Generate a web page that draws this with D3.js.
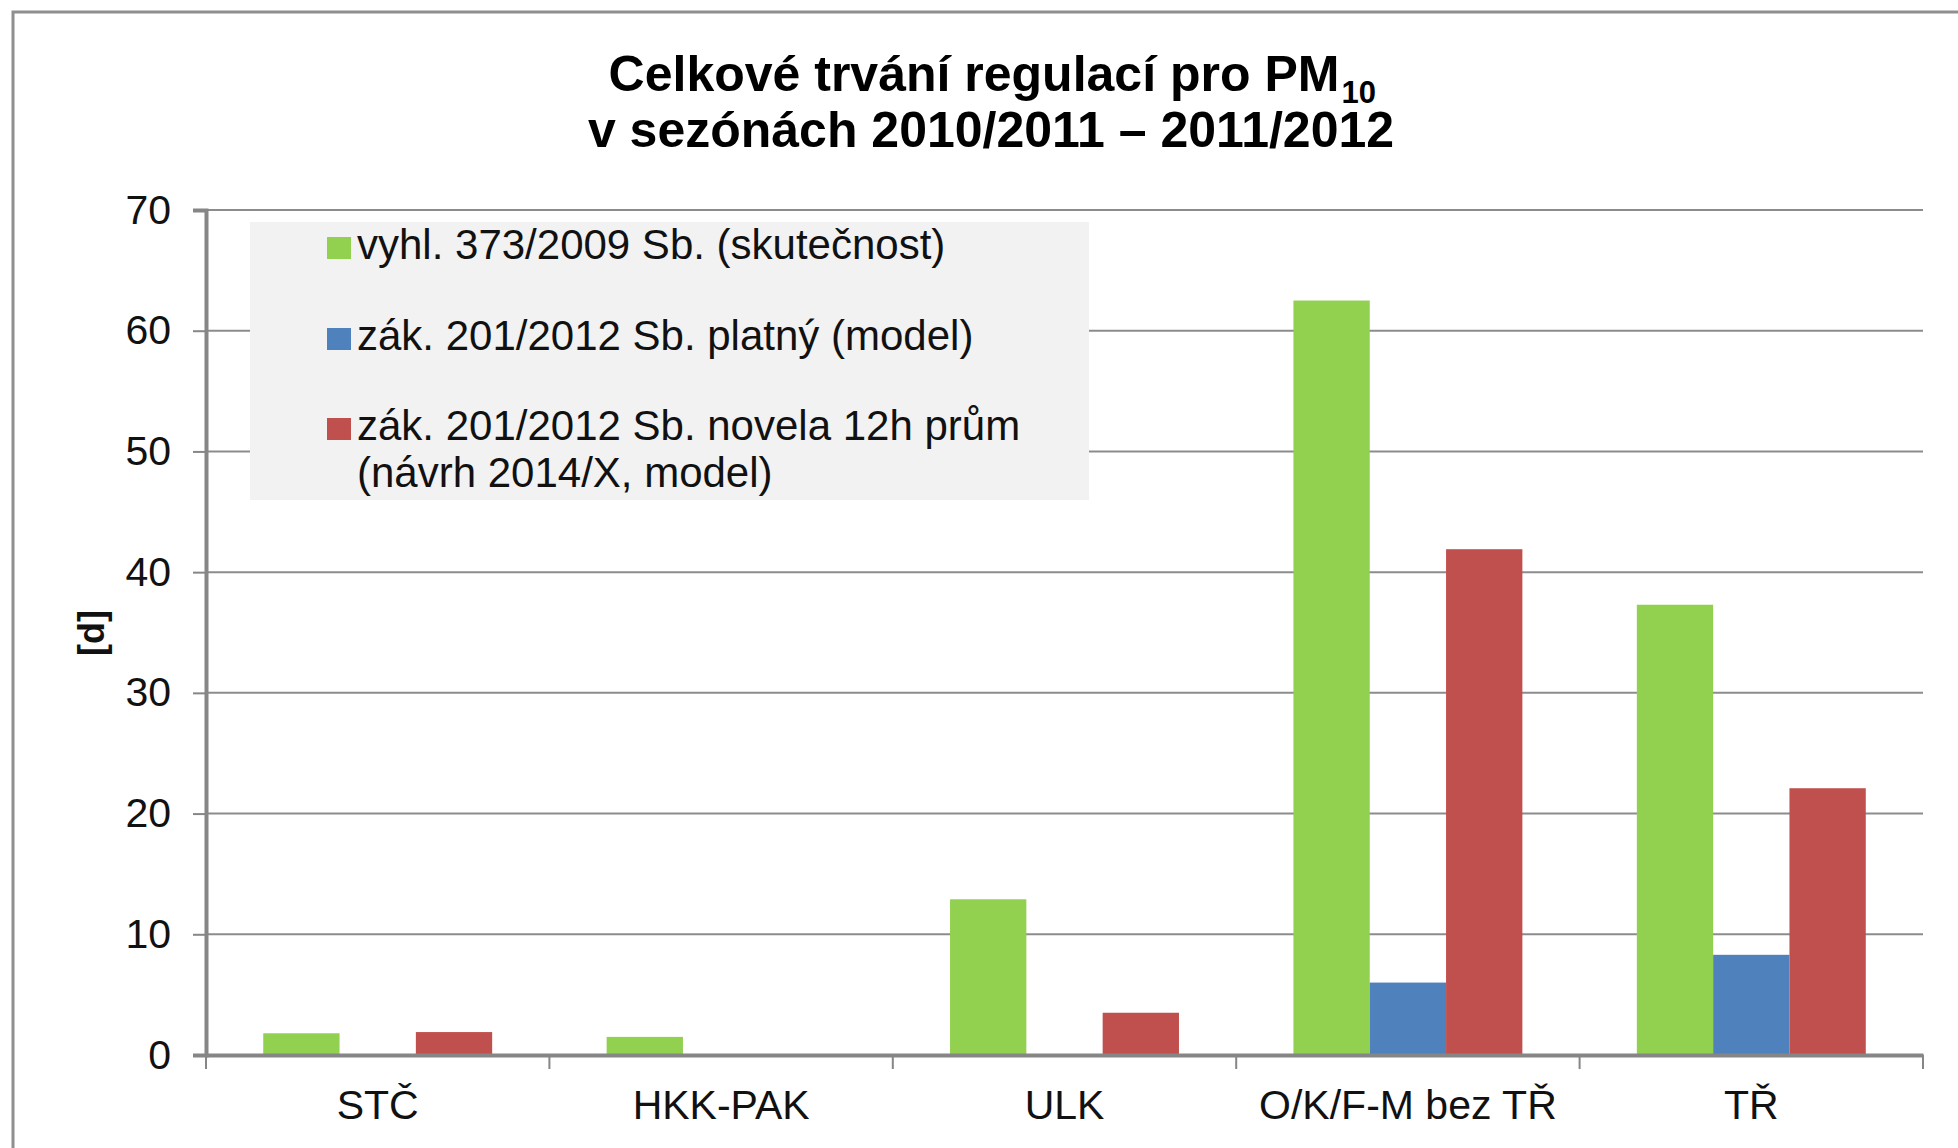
<!DOCTYPE html>
<html lang="cs">
<head>
    <meta charset="UTF-8">
    <title>Celkové trvání regulací pro PM10</title>
    <style>
        body {
            margin: 0;
            padding: 0;
            background: #ffffff;
            font-family: "Liberation Sans", Arial, sans-serif;
        }
        svg text {
            font-family: "Liberation Sans", Arial, sans-serif;
        }
        .grid line {
            stroke: #8c8c8c;
            stroke-width: 2;
        }
    </style>
</head>
<body>
    <div id="chart"></div>

    <script src="https://cdnjs.cloudflare.com/ajax/libs/d3/7.8.5/d3.min.js"></script>
    <script>
        // Data (days)
        const categories = ['STČ', 'HKK-PAK', 'ULK', 'O/K/F-M bez TŘ', 'TŘ'];
        const seriesNames = [
            'vyhl. 373/2009 Sb. (skutečnost)',
            'zák. 201/2012 Sb. platný (model)',
            'zák. 201/2012 Sb. novela 12h prům'
        ];
        const seriesNote = ['', '', '(návrh 2014/X, model)'];
        const skutecnost = [1.8, 1.5, 12.9, 62.5, 37.3];
        const platny = [0, 0, 0, 6.0, 8.3];
        const novela = [1.9, 0, 3.5, 41.9, 22.1];
        const yTicks = [0, 10, 20, 30, 40, 50, 60, 70];
        const colors = ['#92d050', '#4f81bd', '#c0504d'];

        const width = 1958;
        const height = 1148;
        const plot = { left: 206, right: 1923, top: 210, bottom: 1055 };

        const svg = d3.select('#chart')
            .append('svg')
            .attr('width', width)
            .attr('height', height);

        // outer frame (only top and left edges are visible)
        svg.append('rect')
            .attr('x', 13)
            .attr('y', 12)
            .attr('width', width + 20)
            .attr('height', height + 20)
            .attr('fill', 'none')
            .attr('stroke', '#8f8f8f')
            .attr('stroke-width', 3);

        // title, the subscript is its own text so it sits right after "PM"
        const titleLine1 = svg.append('text')
            .attr('x', 974)
            .attr('y', 91)
            .attr('text-anchor', 'middle')
            .attr('font-size', 50)
            .attr('font-weight', 'bold')
            .attr('fill', '#000')
            .text('Celkové trvání regulací pro PM');
        const l1 = titleLine1.node().getBBox();
        svg.append('text')
            .attr('x', l1.x + l1.width + 2)
            .attr('y', 103)
            .attr('font-size', 31)
            .attr('font-weight', 'bold')
            .attr('fill', '#000')
            .text('10');
        svg.append('text')
            .attr('x', 991)
            .attr('y', 147)
            .attr('text-anchor', 'middle')
            .attr('font-size', 50)
            .attr('font-weight', 'bold')
            .attr('fill', '#000')
            .text('v sezónách 2010/2011 – 2011/2012');

        const y = d3.scaleLinear()
            .domain([0, 70])
            .range([plot.bottom, plot.top]);

        const x0 = d3.scaleBand()
            .domain(categories)
            .range([plot.left, plot.right])
            .paddingInner(0)
            .paddingOuter(0);

        const x1 = d3.scaleBand()
            .domain(d3.range(seriesNames.length))
            .range([0, x0.bandwidth()])
            .paddingInner(0)
            .paddingOuter(0.75);

        // gridlines
        svg.append('g')
            .attr('class', 'grid')
            .selectAll('line')
            .data(yTicks.filter(d => d > 0))
            .enter()
            .append('line')
            .attr('x1', plot.left)
            .attr('x2', plot.right)
            .attr('y1', d => y(d))
            .attr('y2', d => y(d));

        // y axis
        const yAxis = svg.append('g')
            .attr('transform', `translate(${plot.left},0)`)
            .call(d3.axisLeft(y).tickValues(yTicks).tickSize(13).tickPadding(22));
        yAxis.select('.domain').attr('stroke', '#868686').attr('stroke-width', 4);
        yAxis.selectAll('.tick line').attr('stroke', '#868686').attr('stroke-width', 2);
        yAxis.selectAll('.tick text')
            .attr('font-size', 41)
            .attr('fill', '#111')
            .attr('font-family', '"Liberation Sans", Arial, sans-serif');

        // y axis title
        svg.append('text')
            .attr('transform', 'translate(104,633) rotate(-90)')
            .attr('text-anchor', 'middle')
            .attr('font-size', 36)
            .attr('font-weight', 'bold')
            .attr('fill', '#111')
            .text('[d]');

        // legend box
        const legend = svg.append('g');
        legend.append('rect')
            .attr('x', 250)
            .attr('y', 222)
            .attr('width', 839)
            .attr('height', 278)
            .attr('fill', '#f2f2f2');

        const legendY = [259, 350, 440];
        seriesNames.forEach((name, i) => {
            legend.append('rect')
                .attr('x', 327)
                .attr('y', legendY[i] - 22)
                .attr('width', 24)
                .attr('height', 22)
                .attr('fill', colors[i]);
            legend.append('text')
                .attr('x', 357)
                .attr('y', legendY[i])
                .attr('font-size', 42)
                .attr('fill', '#111')
                .text(name);
            if (seriesNote[i]) {
                legend.append('text')
                    .attr('x', 357)
                    .attr('y', legendY[i] + 47)
                    .attr('font-size', 42)
                    .attr('fill', '#111')
                    .text(seriesNote[i]);
            }
        });

        // bars
        const seriesValues = [skutecnost, platny, novela];
        const groups = svg.append('g')
            .selectAll('g')
            .data(categories)
            .enter()
            .append('g')
            .attr('transform', d => `translate(${x0(d)},0)`);

        groups.selectAll('rect')
            .data((d, ci) => seriesValues.map((vals, si) => ({ si, value: vals[ci] })))
            .enter()
            .append('rect')
            .attr('x', d => x1(d.si))
            .attr('width', x1.bandwidth())
            .attr('y', d => y(d.value))
            .attr('height', d => y(0) - y(d.value))
            .attr('fill', d => colors[d.si]);

        // x axis
        const xAxis = svg.append('g')
            .attr('transform', `translate(0,${plot.bottom})`)
            .call(d3.axisBottom(x0).tickSize(0).tickPadding(35));
        xAxis.select('.domain').attr('stroke', '#868686').attr('stroke-width', 4);
        xAxis.selectAll('.tick text')
            .attr('font-size', 41)
            .attr('fill', '#111')
            .attr('font-family', '"Liberation Sans", Arial, sans-serif');

        // category separators below the axis
        const edges = categories.map(c => x0(c)).concat([plot.right]);
        svg.append('g')
            .selectAll('line')
            .data(edges)
            .enter()
            .append('line')
            .attr('x1', d => d)
            .attr('x2', d => d)
            .attr('y1', plot.bottom)
            .attr('y2', plot.bottom + 14)
            .attr('stroke', '#868686')
            .attr('stroke-width', 2);
    </script>
</body>
</html>
